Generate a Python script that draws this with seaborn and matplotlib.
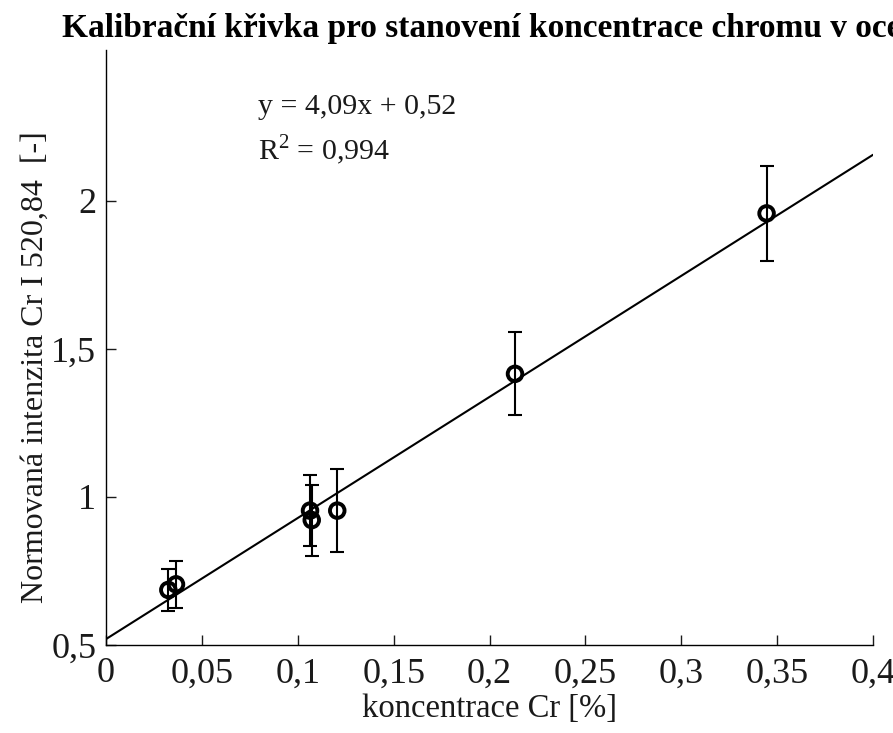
import numpy as np
import pandas as pd
import matplotlib
matplotlib.use("Agg")
import matplotlib.pyplot as plt
import seaborn as sns
from matplotlib.ticker import FuncFormatter

# ---- data ----
conc = [0.0325, 0.0365, 0.1064, 0.1073, 0.1206, 0.2133, 0.3445]
intensity = [0.686, 0.705, 0.954, 0.922, 0.954, 1.416, 1.958]
err = [0.07, 0.08, 0.12, 0.12, 0.14, 0.14, 0.16]
slope = 4.09
intercept = 0.52
r2 = 0.994
x_ticks = [0, 0.05, 0.1, 0.15, 0.2, 0.25, 0.3, 0.35, 0.4]
y_ticks = [0.5, 1, 1.5, 2]

title = "Kalibrační křivka pro stanovení koncentrace chromu v oceli"
xlabel = "koncentrace Cr [%]"
ylabel = "Normovaná intenzita Cr I 520,84  [-]"

sns.set_style("ticks")
plt.rcParams["font.family"] = ["Liberation Serif", "DejaVu Serif"]
plt.rcParams["mathtext.fontset"] = "custom"
plt.rcParams["mathtext.rm"] = "Liberation Serif"

txt = "#1a1a1a"
fig = plt.figure(figsize=(8.93, 7.33), dpi=100)
ax = fig.add_axes([106 / 893, 88 / 733, 767 / 893, 595 / 733])

df = pd.DataFrame({"x": conc, "y": intensity})
fit = pd.DataFrame({"x": [0.0, 0.4]})
fit["y"] = slope * fit["x"] + intercept

sns.lineplot(data=fit, x="x", y="y", ax=ax, color="black", linewidth=1.5)
ax.errorbar(conc, intensity, yerr=err, fmt="none", ecolor="black",
            elinewidth=1.5, capsize=5, capthick=1.5, zorder=3)
sns.scatterplot(data=df, x="x", y="y", ax=ax, marker="o", s=110,
                facecolor="none", edgecolor="black", linewidth=2.8, zorder=4)

ax.set_xlim(0, 0.4)
ax.set_ylim(0.5, 2.51)
ax.set_xticks(x_ticks)
ax.set_yticks(y_ticks)
fmt = FuncFormatter(lambda v, p: ("%g" % v).replace(".", ","))
ax.xaxis.set_major_formatter(fmt)
ax.yaxis.set_major_formatter(fmt)
ax.tick_params(direction="in", length=7, width=1, labelsize=26,
               colors=txt, pad=7)
ax.tick_params(axis="x", pad=9)
for s in ["top", "right"]:
    ax.spines[s].set_visible(False)
for s in ["left", "bottom"]:
    ax.spines[s].set_linewidth(1.0)
    ax.spines[s].set_color("black")

ax.set_xlabel(xlabel, fontsize=23.5, color=txt, va="center")
ax.set_ylabel(ylabel, fontsize=23, color=txt, va="center")
ax.xaxis.set_label_coords(0.5, (645 - 709) / 595)
ax.yaxis.set_label_coords((35 - 106) / 767, (645 - 367) / 595)

ax.text((258 - 106) / 767, (645 - 107) / 595,
        ("y = %.2fx + %.2f" % (slope, intercept)).replace(".", ","),
        transform=ax.transAxes, fontsize=21.5, color=txt, ha="left", va="center")
ax.text((258 - 106) / 767, (645 - 150) / 595,
        ("R$^2$ = %.3f" % r2).replace(".", ","),
        transform=ax.transAxes, fontsize=21.5, color=txt, ha="left", va="center")

fig.text(62 / 893, 1 - 29 / 733, title, fontsize=24, fontweight="bold",
         color="black", ha="left", va="center")

fig.savefig("out.png", dpi=100)
